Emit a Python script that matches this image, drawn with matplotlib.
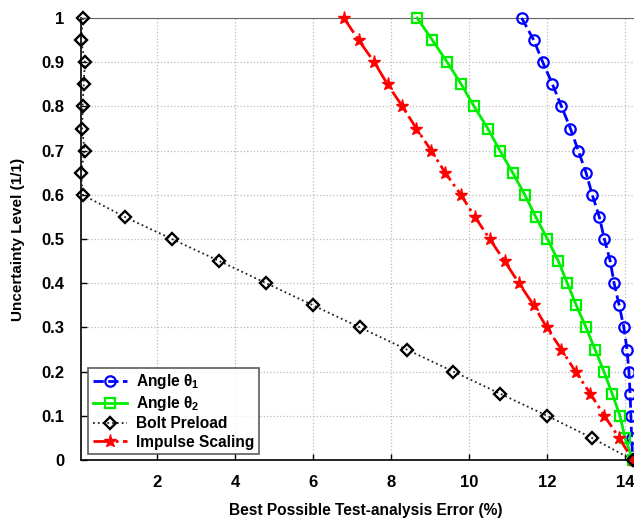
import matplotlib
matplotlib.use("Agg")
import matplotlib.pyplot as plt

plt.rcParams['font.family'] = ['Liberation Sans', 'DejaVu Sans']
plt.rcParams['font.weight'] = 'bold'
plt.rcParams['mathtext.fontset'] = 'custom'
plt.rcParams['mathtext.rm'] = 'Liberation Sans:bold'
plt.rcParams['mathtext.it'] = 'Liberation Sans:bold'
plt.rcParams['mathtext.bf'] = 'Liberation Sans:bold'
plt.rcParams['mathtext.default'] = 'regular'

levels = [1.0, 0.95, 0.9, 0.85, 0.8, 0.75, 0.7, 0.65, 0.6, 0.55, 0.5,
          0.45, 0.4, 0.35, 0.3, 0.25, 0.2, 0.15, 0.1, 0.05, 0.0]

angle1 = [11.35, 11.66, 11.89, 12.14, 12.37, 12.6, 12.8, 13.0, 13.16, 13.34, 13.47,
          13.62, 13.72, 13.85, 13.97, 14.05, 14.1, 14.13, 14.15, 14.17, 14.2]
angle2 = [8.67, 9.06, 9.44, 9.80, 10.13, 10.48, 10.79, 11.12, 11.43, 11.71, 12.01,
          12.29, 12.52, 12.75, 13.0, 13.23, 13.46, 13.67, 13.87, 14.0, 14.2]
bolt = [0.1, 0.05, 0.15, 0.12, 0.09, 0.08, 0.14, 0.05, 0.09, 1.17, 2.38,
        3.6, 4.8, 6.0, 7.2, 8.4, 9.6, 10.8, 12.0, 13.15, 14.2]
impulse = [6.79, 7.17, 7.57, 7.91, 8.29, 8.65, 9.03, 9.39, 9.79, 10.15, 10.53,
           10.91, 11.28, 11.66, 11.99, 12.37, 12.73, 13.11, 13.47, 13.85, 14.2]

labels = [r'Angle $\theta_1$', r'Angle $\theta_2$', 'Bolt Preload', 'Impulse Scaling']
xticks = [2, 4, 6, 8, 10, 12, 14]
yticks = [0, 0.1, 0.2, 0.3, 0.4, 0.5, 0.6, 0.7, 0.8, 0.9, 1]
ytick_labels = ['0', '0.1', '0.2', '0.3', '0.4', '0.5', '0.6', '0.7', '0.8', '0.9', '1']

fig = plt.figure(figsize=(6.34, 5.22), dpi=100)
ax = fig.add_axes([81/634, 1-460/522, 553/634, 442/522])

ax.plot(angle1, levels, color='#0000ff', linestyle='--', linewidth=2,
        marker='o', markersize=7.5, markerfacecolor='none', markeredgewidth=1.6,
        label=labels[0], clip_on=False, zorder=3)
ax.plot(angle2, levels, color='#00ee00', linestyle='-', linewidth=2,
        marker='s', markersize=7.5, markerfacecolor='none', markeredgewidth=1.6,
        label=labels[1], clip_on=False, zorder=3)
ax.plot(bolt, levels, color='#222222', linestyle=':', linewidth=1.3,
        marker='D', markersize=6.5, markerfacecolor='none', markeredgewidth=1.7,
        markeredgecolor='black', label=labels[2], clip_on=False, zorder=4)
ax.plot(impulse, levels, color='#ff0000', linestyle='-.', linewidth=2,
        marker='*', markersize=9.5, markerfacecolor='#ff0000', markeredgewidth=1,
        label=labels[3], clip_on=False, zorder=3)

ax.set_xlim(0.05, 14.23)
ax.set_ylim(0, 1)
ax.set_xticks(xticks)
ax.set_yticks(yticks)
ax.set_yticklabels(ytick_labels)
ax.tick_params(axis='both', labelsize=12, direction='in', length=4, width=1)
ax.tick_params(axis='x', pad=11)
ax.tick_params(axis='y', pad=12)
for lab in ax.get_xticklabels() + ax.get_yticklabels():
    lab.set_fontweight('bold')
ax.grid(True, linestyle=':', color='#bbbbbb', linewidth=0.9)
ax.spines['left'].set_linewidth(1.2)
ax.spines['bottom'].set_linewidth(1.2)
ax.spines['top'].set_color('#666666')
ax.spines['right'].set_visible(False)

xl = ax.set_xlabel('Best Possible Test-analysis Error (%)', fontsize=11.2, fontweight='bold', labelpad=9)
xl.set_x(0.515)
ax.set_ylabel('Uncertainty Level (1/1)', fontsize=11, fontweight='bold', labelpad=12)

leg = ax.legend(loc='lower left', bbox_to_anchor=(0.013, 0.013), fontsize=11.2,
                frameon=True, fancybox=False, edgecolor='#333333',
                handlelength=2.2, borderpad=0.3, labelspacing=0.2, handletextpad=0.6,
                borderaxespad=0)
leg.get_frame().set_linewidth(1.2)
for t in leg.get_texts():
    t.set_fontweight('bold')

fig.savefig('out.png', dpi=100)
